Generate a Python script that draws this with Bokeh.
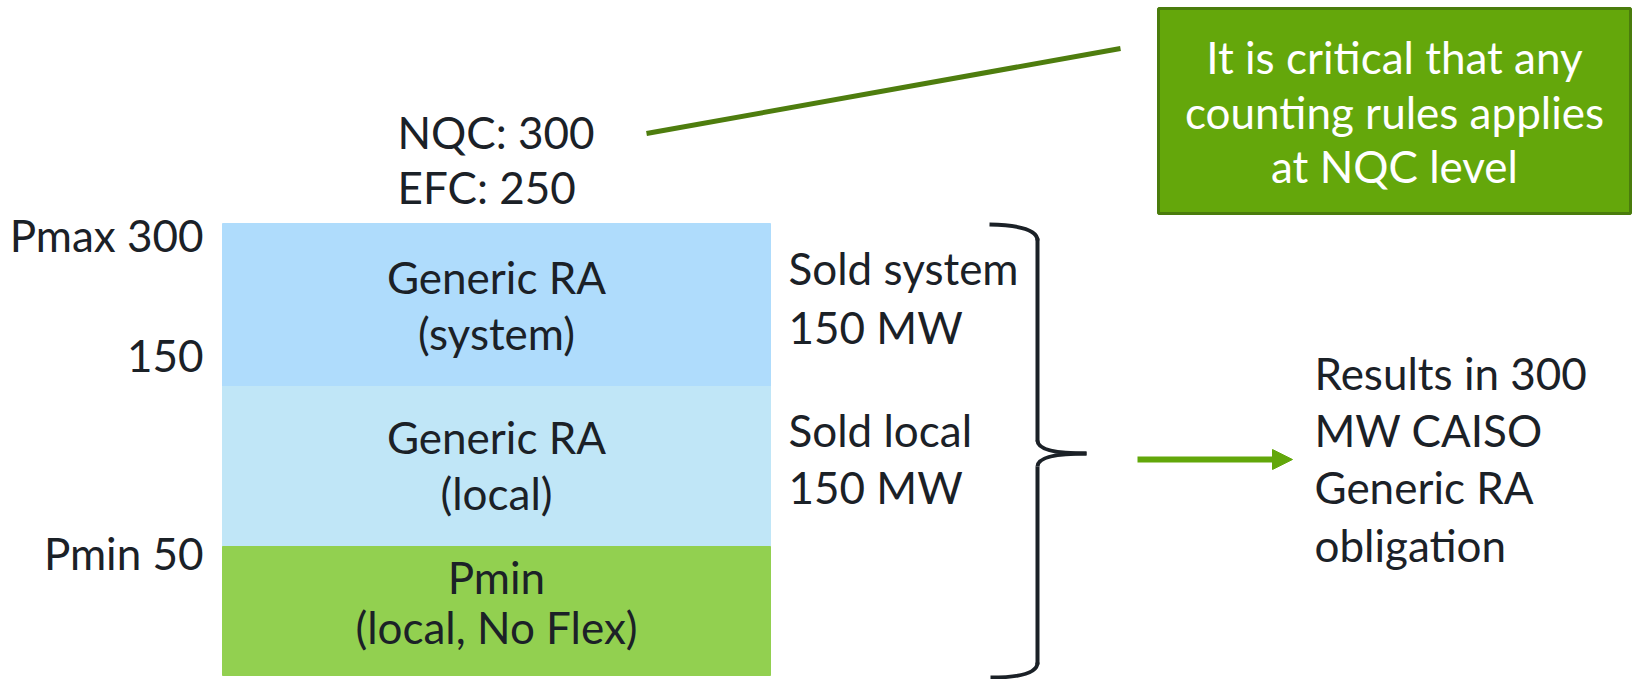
from bokeh.plotting import figure
from bokeh.models import Range1d, Arrow, NormalHead, ColumnDataSource
from bokeh.core.properties import value
from bokeh.embed import file_html
from bokeh.resources import INLINE

# ---- data ----
layers = ["Generic RA (system)", "Generic RA (local)", "Pmin (local, No Flex)"]
layer_mw_bottom = [150, 50, 0]
layer_mw_top = [300, 150, 50]
layer_colors = ["#afdcfc", "#c0e6f7", "#92d050"]
layer_label_line1 = ["Generic RA", "Generic RA", "Pmin"]
layer_label_line2 = ["(system)", "(local)", "(local, No Flex)"]
level_labels = ["Pmax 300", "150", "Pmin 50"]
nqc_lines = ["NQC: 300", "EFC: 250"]
sold_lines = ["Sold system", "150 MW", "Sold local", "150 MW"]
result_lines = ["Results in 300", "MW CAISO", "Generic RA", "obligation"]
callout_lines = ["It is critical that any", "counting rules applies", "at NQC level"]

# ---- layout (schematic diagram, pixel space) ----
band_top = [223, 386, 546]
band_bottom = [386, 546, 675]
bar_left, bar_right = 222, 770
bar_cx = (bar_left + bar_right) / 2
DY = -16  # baseline correction

FONT = value("Lato")
FS = "44px"
TXT = "#1b2127"


def ys(lst):
    return [v + DY for v in lst]


p = figure(width=1632, height=679, x_range=Range1d(0, 1632), y_range=Range1d(679, 0),
           toolbar_location=None, output_backend="svg", min_border=0)
p.axis.visible = False
p.grid.visible = False
p.outline_line_color = None
p.background_fill_color = "white"
p.border_fill_color = "white"

# stacked blocks
src = ColumnDataSource(dict(left=[bar_left] * 3, right=[bar_right] * 3,
                            top=band_top, bottom=band_bottom, color=layer_colors,
                            name=layers, mwb=layer_mw_bottom, mwt=layer_mw_top))
p.quad(left="left", right="right", top="top", bottom="bottom", fill_color="color",
       line_color="color", line_width=1, source=src)

# block labels
p.text(x=[bar_cx] * 3, y=ys([292, 452, 592]), text=layer_label_line1, text_font=FONT, text_font_size=FS,
       text_align="center", text_baseline="alphabetic", text_color=TXT)
p.text(x=[bar_cx] * 3, y=ys([348, 508, 642]), text=layer_label_line2, text_font=FONT, text_font_size=FS,
       text_align="center", text_baseline="alphabetic", text_color=TXT)

# level labels (left)
p.text(x=[203] * 3, y=ys([250, 371, 568]), text=level_labels, text_font=FONT, text_font_size=FS,
       text_align="right", text_baseline="alphabetic", text_color=TXT)

# NQC / EFC
p.text(x=[397] * 2, y=ys([147, 202]), text=nqc_lines, text_font=FONT, text_font_size=FS,
       text_align="left", text_baseline="alphabetic", text_color=TXT)

# Sold texts
p.text(x=[788] * 4, y=ys([283, 342, 445, 502]), text=sold_lines, text_font=FONT, text_font_size=FS,
       text_align="left", text_baseline="alphabetic", text_color=TXT)

# brace
bx = 1037
p.quadratic(x0=[989], y0=[224], x1=[bx], y1=[240], cx=[bx], cy=[225], line_color=TXT, line_width=4)
p.segment(x0=[bx, bx], y0=[238, 466], x1=[bx, bx], y1=[441, 664], line_color=TXT, line_width=4)
p.quadratic(x0=[bx, bx], y0=[440, 466], x1=[1086, 1086], y1=[453, 453], cx=[bx, bx], cy=[453, 453],
            line_color=TXT, line_width=4)
p.quadratic(x0=[bx], y0=[662], x1=[990], y1=[677], cx=[bx], cy=[677], line_color=TXT, line_width=4)

# arrow
p.add_layout(Arrow(end=NormalHead(size=20, fill_color="#62a70a", line_color="#62a70a"),
                   x_start=1137, y_start=459, x_end=1292, y_end=459,
                   line_color="#62a70a", line_width=6))

# results text
p.text(x=[1314] * 4, y=ys([388, 445, 502, 560]), text=result_lines, text_font=FONT, text_font_size=FS,
       text_align="left", text_baseline="alphabetic", text_color=TXT)

# callout line
p.line(x=[646, 1120], y=[133, 48], line_color="#4e7d0e", line_width=5)

# callout box
p.quad(left=[1158], right=[1630], top=[8], bottom=[213], fill_color="#64a70b",
       line_color="#4a7c0c", line_width=3)
p.text(x=[1394] * 3, y=ys([72, 127, 181]), text=callout_lines, text_font=FONT, text_font_size=FS,
       text_align="center", text_baseline="alphabetic", text_color="white")

open("out.html", "w").write(file_html(p, INLINE))
